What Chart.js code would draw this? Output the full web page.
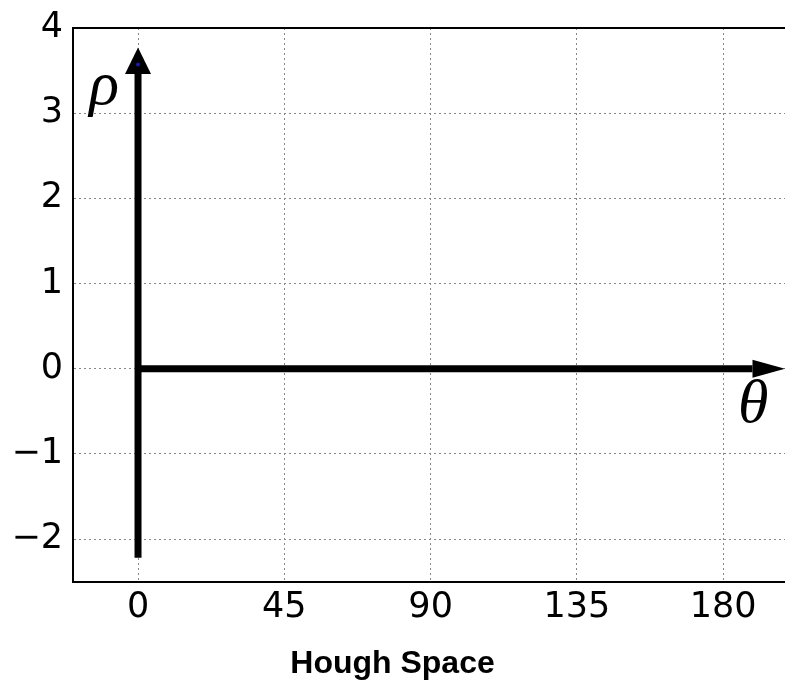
<!DOCTYPE html>
<html>
<head>
<meta charset="utf-8">
<script src="https://cdn.jsdelivr.net/npm/chart.js@4.4.1/dist/chart.umd.min.js"></script>
<style>
  html, body { margin: 0; padding: 0; background: #fff; }
  #wrap { width: 785px; height: 684px; }
</style>
</head>
<body>
<div id="wrap"><canvas id="hough-space"></canvas></div>
<script>
const thetaTicks = [0, 45, 90, 135, 180];
const rhoTicks = [-2, -1, 0, 1, 2, 3, 4];
const thetaRange = [-20, 199];
const rhoRange = [-2.5, 4];

// axis arrows: [shaft start, shaft end (head base), tip]
const rhoArrowTheta = [0, 0, 0];
const rhoArrowRho = [-2.22, 3.46, 3.77];
const thetaArrowTheta = [0, 189, 199];
const thetaArrowRho = [0, 0, 0];

// small blue marker sitting on the rho arrow head
const markerTheta = [0];
const markerRho = [3.57];

const axisLabels = ["ρ", "θ"];
const axisLabelTheta = [-10.4, 189.2];
const axisLabelRho = [3.3, -0.44];

function pts(xs, ys) {
  return xs.map((v, i) => ({ x: v, y: ys[i] }));
}

const arrowParts = {
  id: "arrowParts",
  beforeDatasetsDraw(chart) {
    const { ctx, chartArea, scales: { x, y } } = chart;
    ctx.save();
    // top frame line
    ctx.strokeStyle = "#000";
    ctx.lineWidth = 2;
    ctx.beginPath();
    ctx.moveTo(chartArea.left, chartArea.top);
    ctx.lineTo(chartArea.right, chartArea.top);
    ctx.stroke();

    ctx.fillStyle = "#000";
    // rho arrow head (vertical)
    let bx = x.getPixelForValue(rhoArrowTheta[1]);
    let by = y.getPixelForValue(rhoArrowRho[1]);
    let ty = y.getPixelForValue(rhoArrowRho[2]);
    ctx.beginPath();
    ctx.moveTo(bx - 13, by);
    ctx.lineTo(bx + 13, by);
    ctx.lineTo(bx, ty);
    ctx.closePath();
    ctx.fill();

    // theta arrow head (horizontal)
    bx = x.getPixelForValue(thetaArrowTheta[1]);
    by = y.getPixelForValue(thetaArrowRho[1]);
    const tx = x.getPixelForValue(thetaArrowTheta[2]);
    ctx.beginPath();
    ctx.moveTo(bx, by - 9);
    ctx.lineTo(bx, by + 9);
    ctx.lineTo(tx, by);
    ctx.closePath();
    ctx.fill();
    ctx.restore();
  },
  afterDraw(chart) {
    const { ctx, scales: { x, y } } = chart;
    ctx.save();
    ctx.fillStyle = "#000";
    ctx.font = 'italic 62px "Liberation Serif"';
    ctx.textAlign = "center";
    ctx.textBaseline = "middle";
    axisLabels.forEach((t, i) => {
      ctx.fillText(t, x.getPixelForValue(axisLabelTheta[i]), y.getPixelForValue(axisLabelRho[i]));
    });
    ctx.restore();
  }
};

const tickFont = { family: '"DejaVu Sans"', size: 35 };

new Chart(document.getElementById("hough-space"), {
  type: "scatter",
  data: {
    datasets: [
      {
        data: pts(markerTheta, markerRho),
        pointRadius: 2,
        pointBackgroundColor: "#1a1aa8",
        pointBorderWidth: 0,
        showLine: false
      },
      {
        data: pts(rhoArrowTheta.slice(0, 2), rhoArrowRho.slice(0, 2)),
        showLine: true,
        borderColor: "#000",
        borderWidth: 7,
        borderCapStyle: "butt",
        pointRadius: 0
      },
      {
        data: pts(thetaArrowTheta.slice(0, 2), thetaArrowRho.slice(0, 2)),
        showLine: true,
        borderColor: "#000",
        borderWidth: 7,
        borderCapStyle: "butt",
        pointRadius: 0
      }
    ]
  },
  options: {
    responsive: true,
    maintainAspectRatio: false,
    animation: false,
    layout: { autoPadding: false, padding: { top: 28, right: 0, left: 0, bottom: 0 } },
    plugins: {
      legend: { display: false },
      tooltip: { enabled: false },
      title: {
        display: true,
        position: "bottom",
        text: "Hough Space",
        color: "#000",
        font: { family: '"Liberation Sans", Arial', size: 32, weight: "bold" },
        padding: { top: 18, bottom: 1 }
      }
    },
    scales: {
      x: {
        type: "linear",
        min: thetaRange[0],
        max: thetaRange[1],
        afterBuildTicks: s => { s.ticks = thetaTicks.map(v => ({ value: v })); },
        afterFit: s => { s.height = 45; s.paddingLeft = 0; s.paddingRight = 0; },
        ticks: { font: tickFont, color: "#000", padding: 5, maxRotation: 0, autoSkip: false },
        grid: { color: "#888", lineWidth: 1, drawTicks: false },
        border: { display: true, color: "#000", width: 2, dash: [2, 3] }
      },
      y: {
        type: "linear",
        min: rhoRange[0],
        max: rhoRange[1],
        afterBuildTicks: s => { s.ticks = rhoTicks.map(v => ({ value: v })); },
        afterFit: s => { s.width = 73; s.paddingTop = 0; s.paddingBottom = 0; },
        ticks: {
          font: tickFont,
          color: "#000",
          padding: 10,
          callback: v => (v < 0 ? "\u2212" + Math.abs(v) : String(v))
        },
        grid: { color: "#888", lineWidth: 1, drawTicks: false },
        border: { display: true, color: "#000", width: 2, dash: [2, 3] }
      }
    }
  },
  plugins: [arrowParts]
});
</script>
</body>
</html>
